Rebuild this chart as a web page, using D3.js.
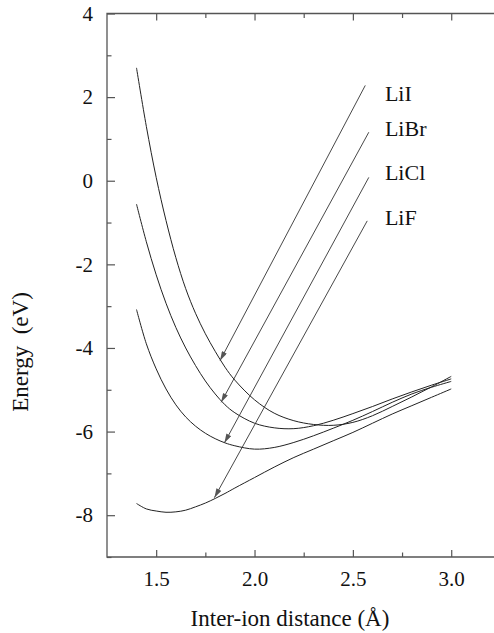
<!DOCTYPE html>
<html>
<head>
<meta charset="utf-8">
<script src="https://cdn.jsdelivr.net/npm/d3@7"></script>
<style>
  body { margin: 0; background: #fff; }
  svg { display: block; font-family: "Liberation Serif", "Times New Roman", serif; }
  .frame { stroke: #555; stroke-width: 1.3; fill: none; }
  .curve { fill: none; stroke: #222; stroke-width: 1; }
  .arrow { stroke: #333; stroke-width: 0.9; }
</style>
</head>
<body>
<div id="chart"></div>
<script>
// inter-ion distance samples (Å)
const distance = [1.4, 1.45, 1.5, 1.55, 1.6, 1.65, 1.7, 1.75, 1.8, 1.85, 1.9,
  2.0, 2.1, 2.2, 2.3, 2.4, 2.5, 2.6, 2.7, 2.8, 2.9, 3.0];

// energy (eV) per compound
const energyLiI = [2.7, 1.3, 0.08, -0.95, -1.84, -2.58, -3.17, -3.66, -4.08, -4.46, -4.77,
  -5.24, -5.56, -5.74, -5.83, -5.85, -5.78, -5.62, -5.4, -5.17, -4.93, -4.68];
const energyLiBr = [-0.56, -1.46, -2.25, -2.93, -3.51, -4.0, -4.42, -4.79, -5.1, -5.36, -5.55,
  -5.8, -5.91, -5.93, -5.86, -5.73, -5.57, -5.4, -5.22, -5.05, -4.89, -4.74];
const energyLiCl = [-3.08, -3.9, -4.5, -4.98, -5.36, -5.65, -5.87, -6.04, -6.17, -6.27, -6.34,
  -6.42, -6.38, -6.26, -6.1, -5.92, -5.73, -5.52, -5.3, -5.1, -4.94, -4.8];
const energyLiF = [-7.72, -7.85, -7.9, -7.93, -7.92, -7.88, -7.8, -7.71, -7.6, -7.48, -7.35,
  -7.1, -6.85, -6.62, -6.42, -6.22, -6.02, -5.8, -5.58, -5.38, -5.18, -4.98];

const compounds = ['LiI', 'LiBr', 'LiCl', 'LiF'];
const energies = [energyLiI, energyLiBr, energyLiCl, energyLiF];

// arrows pointing from the label to the curve, data units
const arrowStart = [[2.563, 2.28], [2.581, 1.16], [2.581, 0.08], [2.573, -0.96]];
const arrowEnd = [[1.825, -4.3], [1.83, -5.3], [1.847, -6.27], [1.796, -7.58]];
// label anchor (data units)
const labelX = 2.663;
const labelY = [1.9, 1.07, 0.02, -1.06];

const xMajor = [1.5, 2.0, 2.5, 3.0];
const xMinor = [1.75, 2.25, 2.75];
const yMajor = [-8, -6, -4, -2, 0, 2, 4];
const yMinor = [-9, -7, -5, -3, -1, 1, 3];

const W = 494;
const H = 633;
const plotLeft = 107;
const plotTop = 13.5;
const plotBottom = 557;

const x = d3.scaleLinear().domain([1.25, 3.25]).range([plotLeft, plotLeft + 2 * 196.7]);
const y = d3.scaleLinear().domain([-9, 4]).range([plotBottom, plotTop]);

const svg = d3.select('#chart')
  .append('svg')
  .attr('width', W)
  .attr('height', H);

svg.append('defs')
  .append('marker')
  .attr('id', 'head')
  .attr('viewBox', '0 0 10 6')
  .attr('refX', 10)
  .attr('refY', 3)
  .attr('markerWidth', 11)
  .attr('markerHeight', 5.5)
  .attr('markerUnits', 'userSpaceOnUse')
  .attr('orient', 'auto')
  .append('path')
  .attr('d', 'M0,0L10,3L0,6Z')
  .attr('fill', '#555');

const styleAxis = g => {
  g.select('.domain').remove();
  g.selectAll('.tick line').attr('stroke', '#555').attr('stroke-width', 1.2);
  g.selectAll('.tick text')
    .attr('fill', '#111')
    .style('font-size', '21px')
    .style('font-family', '"Liberation Serif", serif');
};

// plain hyphen for negatives, like the original
const hyphen = d => String(d);

// bottom axis
svg.append('g')
  .attr('transform', `translate(0,${plotBottom})`)
  .call(d3.axisBottom(x).tickValues(xMajor).tickSizeInner(-7).tickSizeOuter(0)
    .tickPadding(14).tickFormat(d3.format('.1f')))
  .call(styleAxis);

svg.append('g')
  .attr('transform', `translate(0,${plotBottom})`)
  .call(d3.axisBottom(x).tickValues(xMinor).tickSizeInner(-4.5).tickSizeOuter(0).tickFormat(''))
  .call(styleAxis);

// top axis
svg.append('g')
  .attr('transform', `translate(0,${plotTop})`)
  .call(d3.axisTop(x).tickValues(xMajor).tickSizeInner(-7).tickSizeOuter(0).tickFormat(''))
  .call(styleAxis);

svg.append('g')
  .attr('transform', `translate(0,${plotTop})`)
  .call(d3.axisTop(x).tickValues(xMinor).tickSizeInner(-4.5).tickSizeOuter(0).tickFormat(''))
  .call(styleAxis);

// left axis
svg.append('g')
  .attr('transform', `translate(${plotLeft},0)`)
  .call(d3.axisLeft(y).tickValues(yMajor).tickSizeInner(-8).tickSizeOuter(0)
    .tickPadding(14).tickFormat(hyphen))
  .call(styleAxis);

svg.append('g')
  .attr('transform', `translate(${plotLeft},0)`)
  .call(d3.axisLeft(y).tickValues(yMinor).tickSizeInner(-4.5).tickSizeOuter(0).tickFormat(''))
  .call(styleAxis);

// frame (left, top, bottom; right side runs off the picture)
svg.append('path')
  .attr('class', 'frame')
  .attr('d', `M${W},${plotTop}H${plotLeft}V${plotBottom}H${W}`);

// curves
const line = d3.line()
  .x((d, i) => x(distance[i]))
  .y(d => y(d))
  .curve(d3.curveCatmullRom.alpha(0.5));

svg.selectAll('.curve')
  .data(energies)
  .enter()
  .append('path')
  .attr('class', 'curve')
  .attr('d', line);

// arrows
svg.selectAll('.arrow')
  .data(compounds)
  .enter()
  .append('line')
  .attr('class', 'arrow')
  .attr('x1', (d, i) => x(arrowStart[i][0]))
  .attr('y1', (d, i) => y(arrowStart[i][1]))
  .attr('x2', (d, i) => x(arrowEnd[i][0]))
  .attr('y2', (d, i) => y(arrowEnd[i][1]))
  .attr('marker-end', 'url(#head)');

// labels
svg.selectAll('.label')
  .data(compounds)
  .enter()
  .append('text')
  .attr('class', 'label')
  .attr('x', x(labelX))
  .attr('y', (d, i) => y(labelY[i]))
  .attr('fill', '#111')
  .style('font-size', '22px')
  .text(d => d);

// axis titles
svg.append('text')
  .attr('x', 290)
  .attr('y', 626)
  .attr('text-anchor', 'middle')
  .attr('fill', '#111')
  .style('font-size', '23px')
  .text('Inter-ion distance (Å)');

svg.append('text')
  .attr('transform', 'translate(28,352) rotate(-90)')
  .attr('text-anchor', 'middle')
  .attr('fill', '#111')
  .style('font-size', '23px')
  .style('white-space', 'pre')
  .text('Energy  (eV)');
</script>
</body>
</html>
